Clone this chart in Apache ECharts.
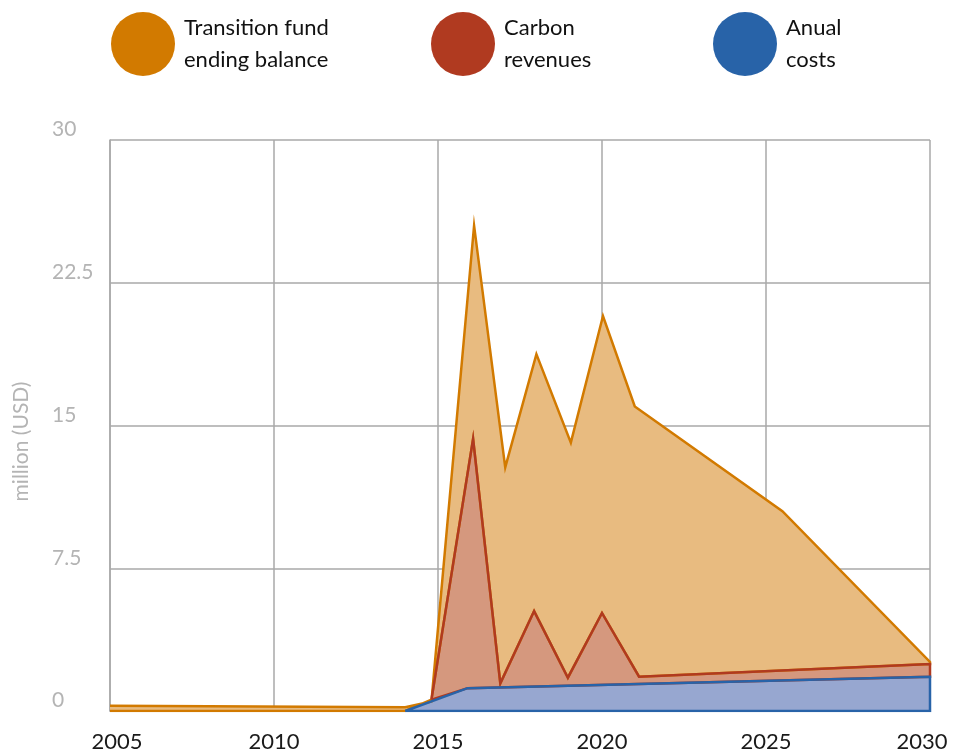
<!DOCTYPE html>
<html>
<head>
<meta charset="utf-8">
<script src="https://cdn.jsdelivr.net/npm/echarts@6/dist/echarts.min.js"></script>
<style>
  html, body { margin: 0; padding: 0; background: #fff; }
  #chart { width: 954px; height: 756px; }
</style>
</head>
<body>
<div id="chart"></div>
<script>
// x positions (years) and values (million USD)
const fundYears = [2005, 2014, 2014.8, 2016.1, 2017.05, 2018, 2019.05, 2020.03, 2021, 2025.5, 2030]
const fundValues = [0.28, 0.2, 0.5, 25.5, 12.8, 18.75, 14.1, 20.75, 16.0, 10.5, 2.58]

const revYears = [2014.8, 2016.07, 2016.9, 2017.93, 2018.96, 2020.0, 2021.13, 2030]
const revValues = [0.6, 14.3, 1.45, 5.25, 1.75, 5.15, 1.8, 2.47]

const costYears = [2014, 2015.9, 2030]
const costValues = [0, 1.2, 1.8]

const xTicks = [2005, 2010, 2015, 2020, 2025, 2030]
const yTicks = [0, 7.5, 15, 22.5, 30]

const names = ['Transition fund\nending balance', 'Carbon\nrevenues', 'Anual\ncosts']
const lineColors = ['#d27a00', '#b03a20', '#2863a8']
const fillColors = ['#e8bb80', '#d5987e', '#97a7d0']

const pairs = (xs, ys) => xs.map((x, i) => [x, ys[i]])

const fund = pairs(fundYears, fundValues)
const rev = pairs(revYears, revValues)
const cost = pairs(costYears, costValues)

// each area is drawn as a closed outline, like the original
const fundOutline = fund
  .concat(rev.slice().reverse())
  .concat([[costYears[0], 0], [fundYears[0], 0]])
const revOutline = rev
  .concat(cost.filter(p => p[0] > revYears[0]).reverse())
  .concat([rev[0]])
const costOutline = cost.concat([[costYears[costYears.length - 1], 0], [costYears[0], 0]])

const font = 'Lato, "Open Sans", sans-serif'

const chart = echarts.init(document.getElementById('chart'))

const makeSeries = (i, data) => ({
  name: names[i],
  type: 'line',
  data: data,
  showSymbol: false,
  symbol: 'none',
  color: lineColors[i],
  lineStyle: { color: lineColors[i], width: 2.5, join: 'miter' },
  areaStyle: { color: fillColors[i], opacity: 1 },
  animation: false
})

const legendAt = (i, left) => ({
  left: left,
  top: 7,
  icon: 'circle',
  itemWidth: 64,
  itemHeight: 64,
  itemGap: 0,
  data: [{ name: names[i], itemStyle: { color: lineColors[i], borderWidth: 0 } }],
  textStyle: { fontFamily: font, fontSize: 22, color: '#111', lineHeight: 32, padding: [0, 0, 0, 4] }
})

const xLabelStyle = { fontFamily: font, fontSize: 22, color: '#1a1a1a' }

chart.setOption({
  backgroundColor: '#fff',
  legend: [legendAt(0, 106), legendAt(1, 426), legendAt(2, 708)],
  grid: { left: 110, right: 24, top: 140, bottom: 45, outerBoundsMode: 'none', containLabel: false },
  xAxis: {
    type: 'value',
    min: xTicks[0],
    max: xTicks[xTicks.length - 1],
    interval: 5,
    axisLine: { show: true, lineStyle: { color: '#a8a8a8', width: 1.5 } },
    axisTick: { show: false },
    splitLine: { show: true, lineStyle: { color: '#a8a8a8', width: 1.5 } },
    axisLabel: {
      // end labels are nudged inward, as in the original
      formatter: v => {
        if (v === xTicks[0]) return '{first|' + v + '}'
        if (v === xTicks[xTicks.length - 1]) return '{last|' + v + '}'
        return String(v)
      },
      rich: {
        first: Object.assign({ padding: [0, 0, 0, 14] }, xLabelStyle),
        last: Object.assign({ padding: [0, 16, 0, 0] }, xLabelStyle)
      },
      fontFamily: font,
      fontSize: 22,
      color: '#1a1a1a',
      margin: 20,
      hideOverlap: false
    }
  },
  yAxis: {
    type: 'value',
    min: yTicks[0],
    max: yTicks[yTicks.length - 1],
    interval: 7.5,
    name: 'million (USD)',
    nameLocation: 'middle',
    nameGap: 78,
    nameTextStyle: { fontFamily: font, fontSize: 21, color: '#b4b4b4', padding: [0, 32, 0, 0] },
    axisLine: { show: true, lineStyle: { color: '#a8a8a8', width: 1.5 } },
    axisTick: { show: false },
    splitLine: { show: true, lineStyle: { color: '#a8a8a8', width: 1.5 } },
    axisLabel: {
      fontFamily: font,
      fontSize: 21,
      color: '#b4b4b4',
      align: 'left',
      verticalAlign: 'bottom',
      margin: 58,
      padding: [0, 0, 0, 0]
    }
  },
  series: [
    makeSeries(0, fundOutline),
    makeSeries(1, revOutline),
    makeSeries(2, costOutline)
  ]
})
</script>
</body>
</html>
